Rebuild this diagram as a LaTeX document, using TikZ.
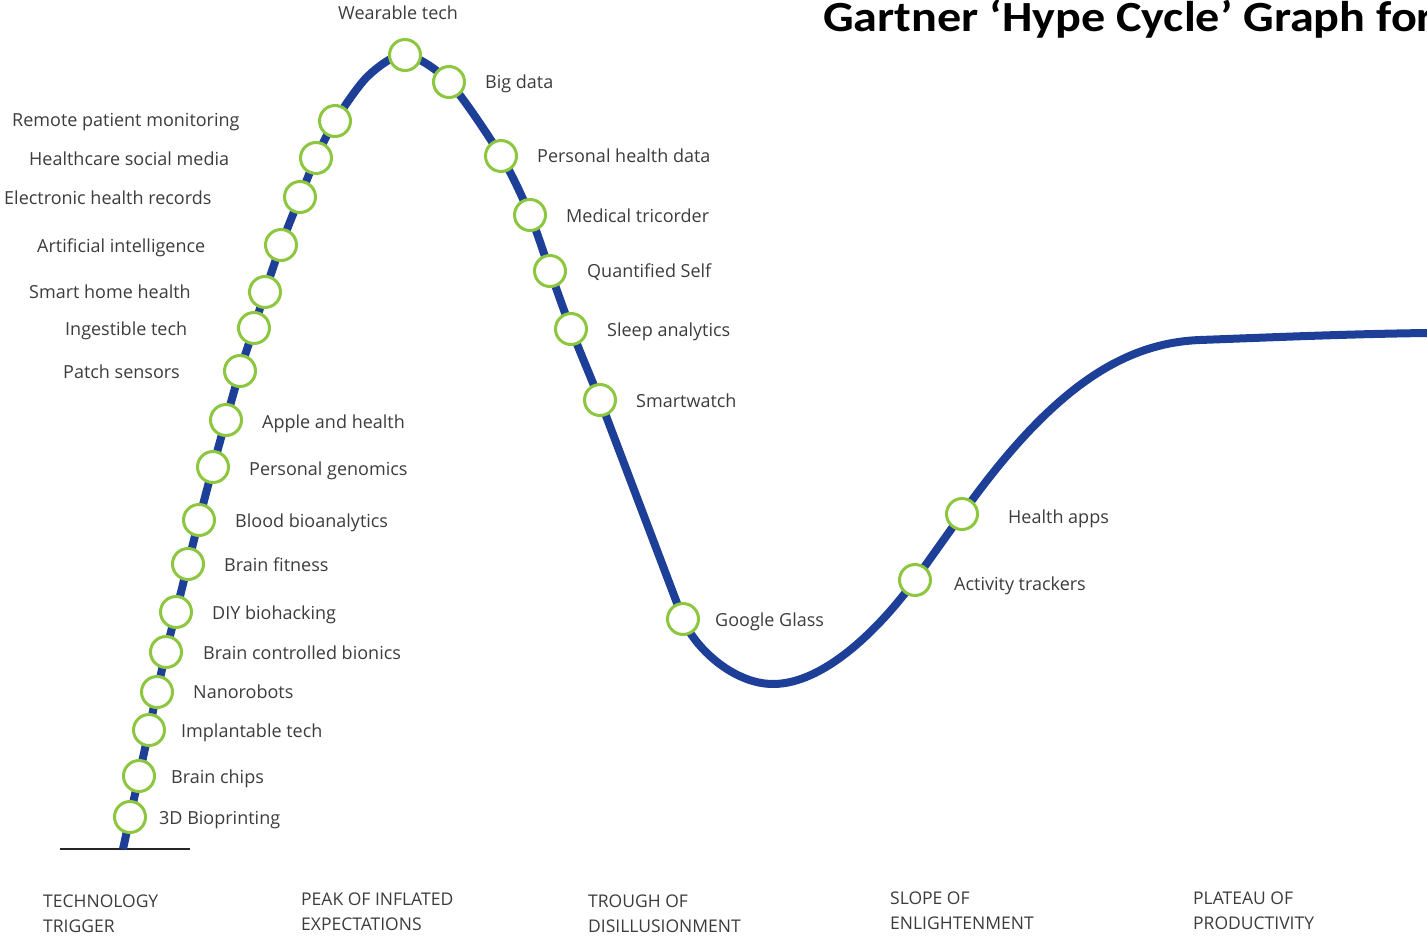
\documentclass[tikz,border=0pt]{standalone}
\usepackage{fontspec}
\setmainfont{Open Sans}
\newfontfamily\titlefont{Carlito}
\usetikzlibrary{backgrounds}
\definecolor{hypeblue}{HTML}{1E3F98}
\definecolor{hypegreen}{HTML}{8DC63F}
\definecolor{labelgray}{HTML}{3C3C3C}

\begin{document}
\begin{tikzpicture}[x=1pt,y=-1pt,
dotnode/.style={circle, draw=hypegreen, fill=white, line width=3pt, minimum size=31pt, inner sep=0pt},
lbl/.style={anchor=base west, inner sep=0pt, text=labelgray, font=\fontsize{18}{20}\selectfont},
phase/.style={anchor=north west, inner sep=0pt, align=left, text=labelgray, font=\fontsize{17.5}{25}\selectfont},
hypecurve/.style={draw=hypeblue, line width=8pt},
]
\useasboundingbox (0,0) rectangle (1427,937);

%Title
\node[anchor=base west, inner sep=0pt, xscale=1.12, font=\titlefont\bfseries\fontsize{43}{45}\selectfont] (title) at (823,31) {Gartner ‘Hype Cycle’ Graph for};

%Dots on the rising slope
\node[dotnode] (bioprinting) at (130,817) {};
\node[dotnode] (brain_chips) at (139,776) {};
\node[dotnode] (implantable) at (149,730) {};
\node[dotnode] (nanorobots) at (157,692) {};
\node[dotnode] (bionics) at (166,652) {};
\node[dotnode] (biohacking) at (176,612) {};
\node[dotnode] (brain_fitness) at (188,564) {};
\node[dotnode] (bioanalytics) at (199,520) {};
\node[dotnode] (genomics) at (213,467) {};
\node[dotnode] (apple) at (226,420) {};
\node[dotnode] (patch) at (240,371) {};
\node[dotnode] (ingestible) at (254,328) {};
\node[dotnode] (smart_home) at (265,292) {};
\node[dotnode] (ai) at (281,245) {};
\node[dotnode] (ehr) at (300,197) {};
\node[dotnode] (social_media) at (316,158) {};
\node[dotnode] (remote) at (335,121) {};
\node[dotnode] (wearable) at (405,55) {};
%Dots on the way down
\node[dotnode] (big_data) at (449,82) {};
\node[dotnode] (health_data) at (501,156) {};
\node[dotnode] (tricorder) at (530,215) {};
\node[dotnode] (quantified) at (550,271) {};
\node[dotnode] (sleep) at (571,329) {};
\node[dotnode] (smartwatch) at (600,400) {};
\node[dotnode] (glass) at (683,619) {};
%Dots on the slope
\node[dotnode] (trackers) at (915,580) {};
\node[dotnode] (apps) at (962,514) {};

%Labels
\node[lbl] (remote_label) at (12,126) {Remote patient monitoring};
\node[lbl] (social_media_label) at (29,165) {Healthcare social media};
\node[lbl] (ehr_label) at (4,204) {Electronic health records};
\node[lbl] (ai_label) at (37,252) {Artificial intelligence};
\node[lbl] (smart_home_label) at (29,298) {Smart home health};
\node[lbl] (ingestible_label) at (65,335) {Ingestible tech};
\node[lbl] (patch_label) at (63,378) {Patch sensors};
\node[lbl] (wearable_label) at (338,19) {Wearable tech};
\node[lbl] (big_data_label) at (485,88) {Big data};
\node[lbl] (health_data_label) at (537,162) {Personal health data};
\node[lbl] (tricorder_label) at (566,222) {Medical tricorder};
\node[lbl] (quantified_label) at (587,277) {Quantified Self};
\node[lbl] (sleep_label) at (607,336) {Sleep analytics};
\node[lbl] (smartwatch_label) at (636,407) {Smartwatch};
\node[lbl] (apple_label) at (262,428) {Apple and health};
\node[lbl] (genomics_label) at (249,475) {Personal genomics};
\node[lbl] (bioanalytics_label) at (235,527) {Blood bioanalytics};
\node[lbl] (brain_fitness_label) at (224,571) {Brain fitness};
\node[lbl] (biohacking_label) at (212,619) {DIY biohacking};
\node[lbl] (bionics_label) at (203,659) {Brain controlled bionics};
\node[lbl] (nanorobots_label) at (193,698) {Nanorobots};
\node[lbl] (implantable_label) at (181,737) {Implantable tech};
\node[lbl] (brain_chips_label) at (171,783) {Brain chips};
\node[lbl] (bioprinting_label) at (159,824) {3D Bioprinting};
\node[lbl] (glass_label) at (715,626) {Google Glass};
\node[lbl] (trackers_label) at (954,590) {Activity trackers};
\node[lbl] (apps_label) at (1008,523) {Health apps};

%Phases
\node[phase] (trigger) at (43,895) {TECHNOLOGY\\TRIGGER};
\node[phase] (peak) at (301,893) {PEAK OF INFLATED\\EXPECTATIONS};
\node[phase] (trough) at (588,895) {TROUGH OF\\DISILLUSIONMENT};
\node[phase] (slope) at (890,892) {SLOPE OF\\ENLIGHTENMENT};
\node[phase] (plateau) at (1193,892) {PLATEAU OF\\PRODUCTIVITY};

%Curve
\begin{pgfonlayer}{background}
\coordinate (ground_left) at (60,849);
\coordinate (ground_right) at (190,849);
\coordinate (bottom) at (773,684);
\coordinate (plateau_start) at (1200,340);
\coordinate (plateau_end) at (1427,333);
\draw[line width=2.5pt, black!85] (ground_left) -- (ground_right);
\draw[hypecurve] plot[smooth, tension=0.5] coordinates {(123,849) (bioprinting.center) (brain_chips.center) (implantable.center) (nanorobots.center) (bionics.center) (biohacking.center) (brain_fitness.center) (bioanalytics.center) (genomics.center) (apple.center) (patch.center) (ingestible.center) (smart_home.center) (ai.center) (ehr.center) (social_media.center) (remote.center) (368,76) (wearable.center) (big_data.center) (health_data.center) (tricorder.center) (quantified.center) (sleep.center) (smartwatch.center)}
  -- (glass.center)
  .. controls (694,647) and (733,684) .. (bottom)
  .. controls (828,684) and (886,620) .. (trackers.center)
  -- (apps.center)
  .. controls (1049,392) and (1120,343) .. (plateau_start)
  .. controls (1280,337) and (1350,334) .. (plateau_end);
\end{pgfonlayer}
\end{tikzpicture}
\end{document}
